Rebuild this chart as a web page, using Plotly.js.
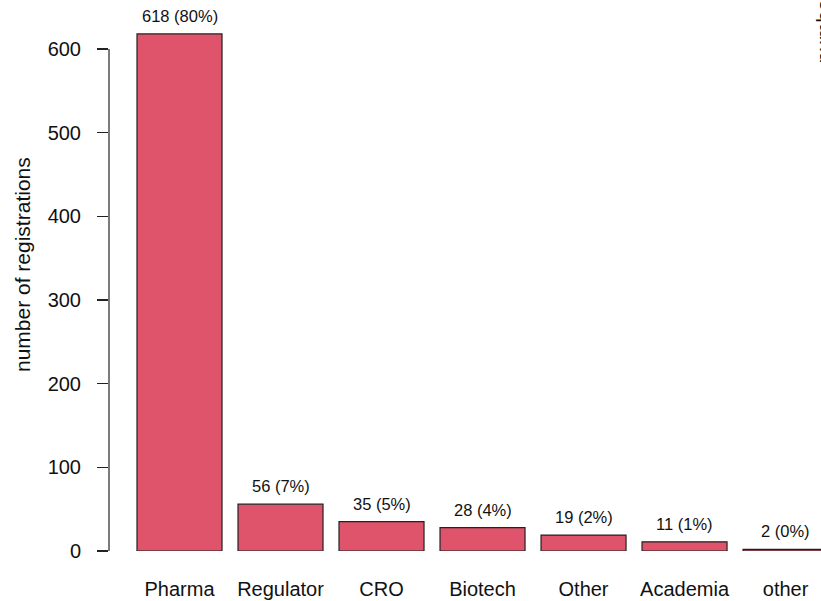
<!DOCTYPE html>
<html>
<head>
<meta charset="utf-8">
<script src="https://cdn.plot.ly/plotly-3.0.1.min.js"></script>
<style>html,body{margin:0;padding:0;background:#fff;}#chart{width:821px;height:601px;}</style>
</head>
<body>
<div id="chart"></div>
<script>
const categories = ["Pharma", "Regulator", "CRO", "Biotech", "Other", "Academia", "other"];
const counts = [618, 56, 35, 28, 19, 11, 2];
const percents = ["80%", "7%", "5%", "4%", "2%", "1%", "0%"];
const yTickVals = [0, 100, 200, 300, 400, 500, 600];
const yTitle = "number of registrations";

const labels = counts.map((c, i) => c + " (" + percents[i] + ")");
const FONT = "Liberation Sans, Arial, sans-serif";

const trace = {
  type: "bar",
  x: categories,
  y: counts,
  width: 0.8416,
  marker: {color: "#DF536B", line: {color: "#222", width: 1.2}},
  hoverinfo: "none"
};

const annotations = categories.map((c, i) => ({
  x: c, y: counts[i], xref: "x", yref: "y",
  text: labels[i], showarrow: false, yanchor: "middle", yshift: 18,
  font: {family: FONT, size: 16.5, color: "#111"}
}));
annotations.push({
  xref: "paper", yref: "paper", x: 0, y: 0.519, xshift: -87,
  text: yTitle, textangle: -90, showarrow: false,
  xanchor: "center", yanchor: "middle",
  font: {family: FONT, size: 21, color: "#111"}
});
annotations.push({
  xref: "paper", yref: "paper", x: 1, y: (551 - 66) / 551, xshift: 2,
  text: yTitle, textangle: -90, showarrow: false,
  xanchor: "center", yanchor: "bottom",
  font: {family: FONT, size: 21, color: "#111"}
});

const layout = {
  width: 821, height: 601,
  margin: {l: 109, r: 0, t: 0, b: 50},
  paper_bgcolor: "#fff", plot_bgcolor: "#fff",
  showlegend: false,
  font: {family: FONT, color: "#111"},
  xaxis: {
    type: "category",
    range: [-0.698, 6.351],
    showgrid: false, zeroline: false, showline: false,
    ticks: "outside", ticklen: 20, tickcolor: "rgba(0,0,0,0)",
    tickfont: {family: FONT, size: 20, color: "#111"},
    fixedrange: true
  },
  yaxis: {
    range: [0, 658.6],
    tickvals: yTickVals,
    ticktext: yTickVals.map(String),
    showgrid: false, zeroline: false, showline: false,
    ticks: "outside", ticklen: 11, tickwidth: 1.2, tickcolor: "#222",
    ticklabelstandoff: 12,
    tickfont: {family: FONT, size: 20, color: "#111"},
    fixedrange: true
  },
  shapes: [{
    type: "line", xref: "paper", yref: "y",
    x0: 0, x1: 0, y0: yTickVals[0], y1: yTickVals[yTickVals.length - 1],
    line: {color: "#222", width: 1.2}
  }],
  annotations: annotations
};

Plotly.newPlot("chart", [trace], layout, {displayModeBar: false, staticPlot: true});
</script>
</body>
</html>
